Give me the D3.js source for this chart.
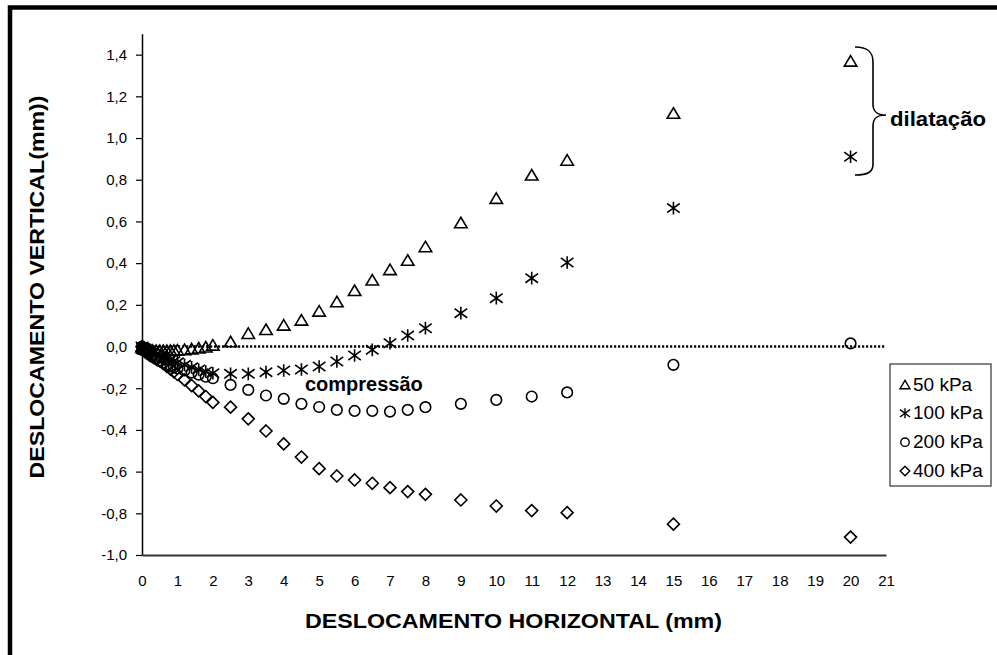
<!DOCTYPE html>
<html>
<head>
<meta charset="utf-8">
<script src="https://cdn.jsdelivr.net/npm/d3@7"></script>
<style>
  html, body { margin: 0; padding: 0; background: #fff; }
  svg { display: block; font-family: "Liberation Sans", Arial, sans-serif; }
</style>
</head>
<body>
<div id="chart"></div>
<script>
// Horizontal displacement readings (mm), shared by every normal stress series
const dispH = [0, 0.02, 0.04, 0.06, 0.08, 0.1, 0.15, 0.2, 0.25, 0.3, 0.4, 0.5, 0.6, 0.7, 0.8, 0.9, 1.0,
  1.2, 1.4, 1.6, 1.8, 2.0, 2.5, 3, 3.5, 4, 4.5, 5, 5.5, 6, 6.5, 7, 7.5, 8, 9, 10, 11, 12, 15, 20];

// Vertical displacement (mm) per normal stress
const v50 = [0, -0.004, -0.006, -0.008, -0.01, -0.012, -0.014, -0.015, -0.016, -0.017, -0.018, -0.018,
  -0.018, -0.018, -0.018, -0.017, -0.016, -0.014, -0.01, -0.006, -0.001, 0.008,
  0.024, 0.064, 0.083, 0.104, 0.128, 0.171, 0.216, 0.27, 0.32, 0.37, 0.415, 0.48,
  0.595, 0.712, 0.824, 0.895, 1.12, 1.37];
const v100 = [0, -0.005, -0.008, -0.012, -0.015, -0.018, -0.022, -0.026, -0.03, -0.033, -0.04, -0.046,
  -0.052, -0.058, -0.064, -0.07, -0.076, -0.088, -0.1, -0.11, -0.12, -0.128,
  -0.131, -0.131, -0.123, -0.115, -0.11, -0.096, -0.072, -0.043, -0.016, 0.016, 0.053, 0.088,
  0.16, 0.232, 0.328, 0.403, 0.664, 0.91];
const v200 = [0, -0.006, -0.01, -0.015, -0.02, -0.024, -0.03, -0.037, -0.043, -0.05, -0.06, -0.07,
  -0.078, -0.085, -0.092, -0.1, -0.105, -0.115, -0.125, -0.135, -0.145, -0.152,
  -0.184, -0.208, -0.235, -0.251, -0.275, -0.29, -0.304, -0.309, -0.309, -0.312, -0.304, -0.291,
  -0.275, -0.256, -0.24, -0.22, -0.088, 0.015];
const v400 = [0, -0.003, -0.006, -0.009, -0.012, -0.015, -0.021, -0.028, -0.035, -0.042, -0.055, -0.068,
  -0.082, -0.095, -0.108, -0.121, -0.134, -0.16, -0.187, -0.213, -0.24, -0.268,
  -0.291, -0.347, -0.405, -0.467, -0.53, -0.586, -0.621, -0.64, -0.656, -0.677, -0.696, -0.709,
  -0.736, -0.765, -0.787, -0.797, -0.852, -0.914];

const seriesNames = ['50 kPa', '100 kPa', '200 kPa', '400 kPa'];
const seriesMarkers = ['triangle', 'star', 'circle', 'diamond'];
const seriesValues = [v50, v100, v200, v400];

const xTicks = d3.range(0, 22);
const yTicks = [-1.0, -0.8, -0.6, -0.4, -0.2, 0.0, 0.2, 0.4, 0.6, 0.8, 1.0, 1.2, 1.4];

const W = 997, H = 655;

const svg = d3.select('#chart').append('svg')
  .attr('width', W).attr('height', H);

// outer frame (only top/left visible in the crop)
svg.append('rect')
  .attr('x', 10).attr('y', 7.5)
  .attr('width', W + 20).attr('height', H + 20)
  .attr('fill', 'none').attr('stroke', '#000').attr('stroke-width', 4.5);

const x = d3.scaleLinear().domain([0, 21]).range([142, 886]);
const y = d3.scaleLinear().domain([-1, 1.5]).range([555, 33.8]);

const fmt = (v) => d3.format('.1f')(v).replace('.', ',').replace('−', '-');

// y axis
const gy = svg.append('g')
  .attr('transform', `translate(${x(0)},0)`)
  .call(d3.axisLeft(y).tickValues(yTicks).tickSize(6).tickSizeOuter(0).tickPadding(9).tickFormat(fmt));
gy.select('.domain').attr('stroke', '#000').attr('stroke-width', 1.5);
gy.selectAll('.tick line').attr('stroke', '#000').attr('stroke-width', 1.2);
gy.selectAll('text').attr('font-family', '"Liberation Sans", Arial, sans-serif')
  .attr('font-size', 15).attr('fill', '#000');

// x axis
const gx = svg.append('g')
  .attr('transform', `translate(0,${y(-1)})`)
  .call(d3.axisBottom(x).tickValues(xTicks).tickSize(0).tickSizeOuter(0).tickPadding(20).tickFormat(d3.format('d')));
gx.select('.domain').attr('stroke', '#333').attr('stroke-width', 1.8);
gx.selectAll('text').attr('font-family', '"Liberation Sans", Arial, sans-serif')
  .attr('font-size', 15).attr('fill', '#000');

// dotted zero line
svg.append('line')
  .attr('x1', x(0)).attr('x2', x(21))
  .attr('y1', y(0)).attr('y2', y(0))
  .attr('stroke', '#000').attr('stroke-width', 2.6)
  .attr('stroke-dasharray', '2.2,1.8');

// marker shapes
function markerPath(type, s) {
  if (type === 'triangle') {
    const w = 12.5 * s, h = 10.5 * s;
    return `M0,${-h / 2}L${w / 2},${h / 2}L${-w / 2},${h / 2}Z`;
  }
  if (type === 'star') {
    const r = 6.3 * s, dx = 6.3 * s, dy = 4.6 * s;
    return `M0,${-r}V${r}M${-dx},${-dy}L${dx},${dy}M${-dx},${dy}L${dx},${-dy}`;
  }
  if (type === 'circle') {
    const r = 5.3 * s;
    return `M${r},0A${r},${r} 0 1,1 ${-r},0A${r},${r} 0 1,1 ${r},0Z`;
  }
  const d = 6 * s;
  return `M0,${-d}L${d},0L0,${d}L${-d},0Z`;
}

const plot = svg.append('g').attr('class', 'series');
seriesValues.forEach((vals, i) => {
  plot.append('g')
    .selectAll('path')
    .data(vals.map((v, j) => [dispH[j], v]))
    .enter()
    .append('path')
    .attr('transform', (d) => `translate(${x(d[0])},${y(d[1])})`)
    .attr('d', markerPath(seriesMarkers[i], 1))
    .attr('fill', 'none')
    .attr('stroke', '#000')
    .attr('stroke-width', 1.6);
});

// axis titles
svg.append('text')
  .attr('x', 513.5).attr('y', 627.5)
  .attr('text-anchor', 'middle')
  .attr('font-size', 21).attr('font-weight', 'bold')
  .attr('textLength', 417).attr('lengthAdjust', 'spacingAndGlyphs')
  .text('DESLOCAMENTO HORIZONTAL (mm)');

svg.append('text')
  .attr('transform', 'translate(44,287) rotate(-90)')
  .attr('text-anchor', 'middle')
  .attr('font-size', 21).attr('font-weight', 'bold')
  .attr('textLength', 383).attr('lengthAdjust', 'spacingAndGlyphs')
  .text('DESLOCAMENTO VERTICAL(mm))');

// annotations
svg.append('text')
  .attr('x', 305).attr('y', 391)
  .attr('font-size', 20).attr('font-weight', 'bold')
  .text('compressão');

svg.append('path')
  .attr('d', 'M855,47 C868,47 873,52 873,62 L873,104 C873,112 877,115 886,115 C877,115 873,118 873,126 L873,164 C873,172 868,175 855,175')
  .attr('fill', 'none').attr('stroke', '#000').attr('stroke-width', 1.6);

svg.append('text')
  .attr('x', 890).attr('y', 126)
  .attr('font-size', 20).attr('font-weight', 'bold')
  .attr('textLength', 96).attr('lengthAdjust', 'spacingAndGlyphs')
  .text('dilatação');

// legend
const legend = svg.append('g').attr('transform', 'translate(890,364)');
legend.append('rect')
  .attr('x', 0).attr('y', 0).attr('width', 101).attr('height', 122)
  .attr('fill', '#fff').attr('stroke', '#333').attr('stroke-width', 1.2);
const rowY = d3.scalePoint().domain(seriesNames).range([19.5, 106]);
seriesNames.forEach((name, i) => {
  const gy0 = rowY(name);
  legend.append('path')
    .attr('transform', `translate(15,${gy0 + 1})`)
    .attr('d', markerPath(seriesMarkers[i], 0.8))
    .attr('fill', 'none').attr('stroke', '#000').attr('stroke-width', 1.4);
  legend.append('text')
    .attr('x', 23).attr('y', gy0 + 7)
    .attr('font-size', 19)
    .text(name);
});
</script>
</body>
</html>
